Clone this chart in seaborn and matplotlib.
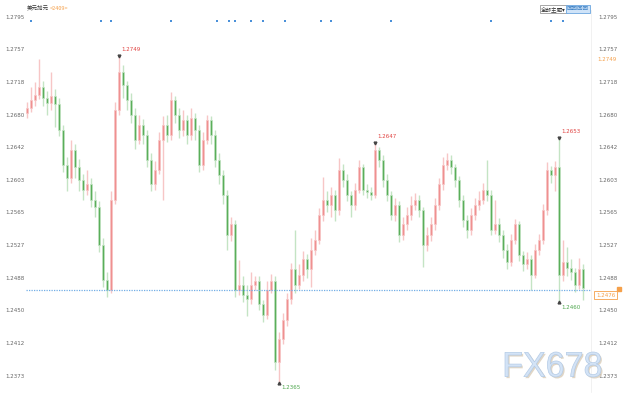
import numpy as np
import pandas as pd
import matplotlib
matplotlib.use("Agg")
import matplotlib.pyplot as plt
import seaborn as sns
import matplotlib.transforms as mtrans
from matplotlib.textpath import TextPath
from matplotlib.patches import PathPatch
from matplotlib.font_manager import FontProperties
from matplotlib.transforms import Affine2D, ScaledTranslation

# ---------------- data ----------------
first_open = 1.2682
close = [1.2688, 1.2697, 1.2703, 1.2712, 1.2700, 1.2694, 1.2702, 1.2692, 1.2662, 1.2621,
         1.2606, 1.2639, 1.2618, 1.2603, 1.2592, 1.2598, 1.2580, 1.2571, 1.2527, 1.2486,
         1.2474, 1.2580, 1.2686, 1.2730, 1.2715, 1.2697, 1.2680, 1.2650, 1.2668, 1.2656,
         1.2627, 1.2598, 1.2615, 1.2650, 1.2668, 1.2656, 1.2697, 1.2680, 1.2662, 1.2674,
         1.2656, 1.2676, 1.2662, 1.2621, 1.2650, 1.2674, 1.2656, 1.2627, 1.2609, 1.2586,
         1.2539, 1.2551, 1.2474, 1.2480, 1.2468, 1.2463, 1.2480, 1.2484, 1.2457, 1.2445,
         1.2474, 1.2484, 1.2389, 1.2416, 1.2439, 1.2463, 1.2498, 1.2480, 1.2492, 1.2510,
         1.2498, 1.2521, 1.2533, 1.2562, 1.2580, 1.2574, 1.2586, 1.2568, 1.2615, 1.2603,
         1.2586, 1.2574, 1.2592, 1.2618, 1.2592, 1.2589, 1.2586, 1.2639, 1.2627, 1.2603,
         1.2586, 1.2562, 1.2574, 1.2539, 1.2551, 1.2562, 1.2574, 1.2580, 1.2568, 1.2527,
         1.2539, 1.2551, 1.2574, 1.2598, 1.2621, 1.2627, 1.2618, 1.2603, 1.2580, 1.2556,
         1.2545, 1.2562, 1.2574, 1.2580, 1.2592, 1.2586, 1.2545, 1.2551, 1.2539, 1.2521,
         1.2507, 1.2533, 1.2551, 1.2515, 1.2504, 1.2510, 1.2492, 1.2521, 1.2533, 1.2568,
         1.2615, 1.2609, 1.2618, 1.2492, 1.2507, 1.2500, 1.2495, 1.2480, 1.2498, 1.2476]
high = [1.2695, 1.2712, 1.2718, 1.2745, 1.2720, 1.2708, 1.2730, 1.2710, 1.2700, 1.2668,
        1.2630, 1.2650, 1.2645, 1.2628, 1.2610, 1.2615, 1.2605, 1.2590, 1.2578, 1.2535,
        1.2495, 1.2590, 1.2695, 1.2749, 1.2738, 1.2720, 1.2705, 1.2688, 1.2680, 1.2675,
        1.2662, 1.2635, 1.2625, 1.2660, 1.2678, 1.2680, 1.2707, 1.2702, 1.2688, 1.2685,
        1.2680, 1.2688, 1.2682, 1.2668, 1.2660, 1.2680, 1.2678, 1.2662, 1.2635, 1.2615,
        1.2592, 1.2560, 1.2556, 1.2509, 1.2490, 1.2480, 1.2495, 1.2490, 1.2490, 1.2462,
        1.2485, 1.2493, 1.2490, 1.2425, 1.2447, 1.2470, 1.2506, 1.2545, 1.2505, 1.2520,
        1.2516, 1.2535, 1.2545, 1.2570, 1.2607, 1.2590, 1.2595, 1.2592, 1.2629, 1.2622,
        1.2610, 1.2590, 1.2600, 1.2627, 1.2622, 1.2598, 1.2595, 1.2647, 1.2642, 1.2632,
        1.2610, 1.2590, 1.2582, 1.2578, 1.2560, 1.2572, 1.2584, 1.2588, 1.2585, 1.2572,
        1.2548, 1.2560, 1.2582, 1.2605, 1.2630, 1.2635, 1.2632, 1.2622, 1.2608, 1.2585,
        1.2562, 1.2570, 1.2582, 1.2590, 1.2600, 1.2627, 1.2592, 1.2580, 1.2558, 1.2545,
        1.2528, 1.2540, 1.2557, 1.2555, 1.2520, 1.2518, 1.2515, 1.2528, 1.2540, 1.2575,
        1.2624, 1.2620, 1.2625, 1.2653, 1.2533, 1.2525, 1.2510, 1.2500, 1.2512, 1.2505]
low = [1.2676, 1.2683, 1.2690, 1.2698, 1.2690, 1.2680, 1.2686, 1.2665, 1.2655, 1.2612,
       1.2590, 1.2600, 1.2605, 1.2590, 1.2580, 1.2585, 1.2572, 1.2560, 1.2518, 1.2478,
       1.2466, 1.2470, 1.2575, 1.2680, 1.2700, 1.2685, 1.2670, 1.2640, 1.2645, 1.2645,
       1.2618, 1.2590, 1.2592, 1.2610, 1.2580, 1.2648, 1.2650, 1.2670, 1.2652, 1.2655,
       1.2645, 1.2650, 1.2650, 1.2612, 1.2615, 1.2645, 1.2645, 1.2618, 1.2598, 1.2575,
       1.2521, 1.2532, 1.2466, 1.2468, 1.2460, 1.2443, 1.2458, 1.2474, 1.2450, 1.2436,
       1.2440, 1.2470, 1.2380, 1.2365, 1.2410, 1.2432, 1.2458, 1.2470, 1.2475, 1.2485,
       1.2488, 1.2478, 1.2515, 1.2528, 1.2555, 1.2565, 1.2560, 1.2555, 1.2562, 1.2595,
       1.2578, 1.2560, 1.2568, 1.2588, 1.2585, 1.2582, 1.2580, 1.2582, 1.2618, 1.2595,
       1.2578, 1.2556, 1.2555, 1.2530, 1.2533, 1.2545, 1.2556, 1.2568, 1.2560, 1.2501,
       1.2520, 1.2532, 1.2545, 1.2568, 1.2592, 1.2615, 1.2610, 1.2595, 1.2572, 1.2548,
       1.2535, 1.2538, 1.2556, 1.2568, 1.2575, 1.2578, 1.2538, 1.2540, 1.2530, 1.2512,
       1.2498, 1.2502, 1.2528, 1.2508, 1.2496, 1.2498, 1.2474, 1.2488, 1.2515, 1.2528,
       1.2562, 1.2600, 1.2590, 1.2460, 1.2485, 1.2490, 1.2486, 1.2472, 1.2475, 1.2462]
tick_values = [1.2795, 1.2757, 1.2718, 1.2680, 1.2642, 1.2603, 1.2565,
               1.2527, 1.2488, 1.2450, 1.2412, 1.2373]
event_positions = [1, 18.5, 21, 36, 47.5, 50.5, 52, 56, 59, 64.5,
                   73.5, 76, 91, 116, 131, 134]
event_level = 1.2790
last_price = 1.2476
max_label_price = 1.2749
peak_idx = [23, 87, 133]
trough_idx = [63, 133]
title_name = "美元加元"
title_code = "<2409>"
watermark = "FX678"

# ---------------- table ----------------
df = pd.DataFrame({"close": close, "high": high, "low": low})
df["open"] = [first_open] + close[:-1]
df["idx"] = np.arange(len(df))
df["up"] = df["close"] >= df["open"]

sns.set_theme(style="white")
plt.rcParams["font.family"] = ["DejaVu Sans", "Noto Sans CJK SC"]
cjk = ["Noto Sans CJK SC", "DejaVu Sans"]

W, H = 632, 400
fig = plt.figure(figsize=(W / 100, H / 100), dpi=100)
ax = fig.add_axes([26 / W, 8 / H, 565 / W, 382 / H])
ax.set_xlim(-0.25, 141.0)
ax.set_ylim(1.2354, 1.2803)

red_body, red_wick = "#ef9090", "#f7c6c6"
green_body, green_wick = "#5aae5a", "#c4e4c4"

for up, body_c, wick_c in [(True, red_body, red_wick), (False, green_body, green_wick)]:
    d = df[df["up"] == up]
    ax.vlines(d["idx"], d["low"], d["high"], color=wick_c, lw=1.0, zorder=2)
    bottoms = np.minimum(d["open"], d["close"])
    heights = np.maximum(np.abs(d["close"] - d["open"]), 0.00008)
    ax.bar(d["idx"], heights, bottom=bottoms, width=0.5, color=body_c,
           edgecolor=wick_c, linewidth=0.5, zorder=3)

# current price dotted line
ax.axhline(last_price - 0.0002, color="#72aee6", ls=(0, (1, 1)), lw=0.9, zorder=4)

# event dots on top
ev = pd.DataFrame({"x": event_positions, "y": [event_level] * len(event_positions)})
sns.scatterplot(data=ev, x="x", y="y", ax=ax, color="#4a90d9", s=3, linewidth=0,
                marker="s", zorder=5, legend=False)
ax.set_xlabel("")
ax.set_ylabel("")

# peak / trough annotations
for i in peak_idx:
    v = df.loc[i, "high"]
    ax.plot(i, v, marker="v", ms=2, color="#444444", zorder=6)
    ax.annotate(f"{v:.4f}", (i, v), xytext=(2, 2.5), textcoords="offset points",
                fontsize=4, color="#e0413f", ha="left", va="bottom")
for i in trough_idx:
    v = df.loc[i, "low"]
    ax.plot(i, v, marker="^", ms=2, color="#444444", zorder=6)
    ax.annotate(f"{v:.4f}", (i, v), xytext=(2, -2), textcoords="offset points",
                fontsize=4, color="#4ca64c", ha="left", va="top")

# axes styling
ax.set_yticks(tick_values)
ax.set_yticklabels([f"{v:.4f}" for v in tick_values])
ax.set_xticks([])
ax.tick_params(axis="y", which="both", length=0, labelsize=4, labelcolor="#666666",
               labelleft=True, labelright=True, pad=1)
for sp in ["top", "left", "bottom"]:
    ax.spines[sp].set_visible(False)
ax.spines["right"].set_color("#ececec")
ax.spines["right"].set_linewidth(0.5)
ax.grid(False)
for t in ax.yaxis.get_major_ticks():
    t.label2.set_transform(t.label2.get_transform() + ScaledTranslation(4 / 72, 0, fig.dpi_scale_trans))

# right side labels
blend = mtrans.blended_transform_factory(ax.transAxes, ax.transData)
ax.text((597 - 26) / 565, max_label_price - 0.0004, f"{max_label_price:.4f}", transform=blend,
        fontsize=4, color="#f5a04a", ha="left", va="center", clip_on=False)
ax.text((596 - 26) / 565, last_price - 0.0008, f"{last_price:.4f}", transform=blend,
        fontsize=4, color="#f5a04a", ha="left", va="center", clip_on=False,
        bbox=dict(boxstyle="square,pad=0.35", fc="white", ec="#f5a04a", lw=0.6))
ax.plot([(619 - 26) / 565], [last_price - 0.0001], transform=blend, marker="s", ms=2.2,
        color="#f5a04a", clip_on=False)

# top-left title
t1 = fig.text(27 / W, 1 - 8 / H, title_name, fontsize=4.0, color="#333333", va="center",
              ha="left", family=cjk)
fig.canvas.draw()
bb = t1.get_window_extent()
fig.text((bb.x1 + 0.5) / W, 1 - 8 / H, title_code, fontsize=4.0, color="#f5a04a",
         va="center", ha="left", family=cjk)

# top-right controls
fig.text(541 / W, 1 - 9 / H, "全部主题▾", fontsize=4, color="#333333", va="center", ha="left",
         family=cjk, bbox=dict(boxstyle="square,pad=0.25", fc="white", ec="#999999", lw=0.6))
fig.text(567 / W, 1 - 9 / H, "回回回回", fontsize=4, color="#3a7fc4", va="center", ha="left",
         family=cjk, bbox=dict(boxstyle="square,pad=0.25", fc="#cfe3f8", ec="#6aa5df", lw=0.6))

# watermark FX678
fp = FontProperties(family="Liberation Sans")
tp = TextPath((0, 0), watermark, size=10, prop=fp)
ext = tp.get_extents()
x0, x1, y0, y1 = 505, 601, H - 377, H - 352
sx = (x1 - x0) / ext.width
sy = (y1 - y0) / ext.height
tr = Affine2D().translate(-ext.x0, -ext.y0).scale(sx, sy).translate(x0, y0)
shadow = tr + Affine2D().translate(1.5, -1.5)
fig.patches.append(PathPatch(shadow.transform_path(tp), transform=None,
                             fc="#d9ccb8", ec="none", alpha=0.8, figure=fig))
fig.patches.append(PathPatch(tr.transform_path(tp), transform=None,
                             fc="#d3e3f6", ec="#b4cbe6", lw=0.5, figure=fig))

fig.savefig("out.png", dpi=100, facecolor="white")
